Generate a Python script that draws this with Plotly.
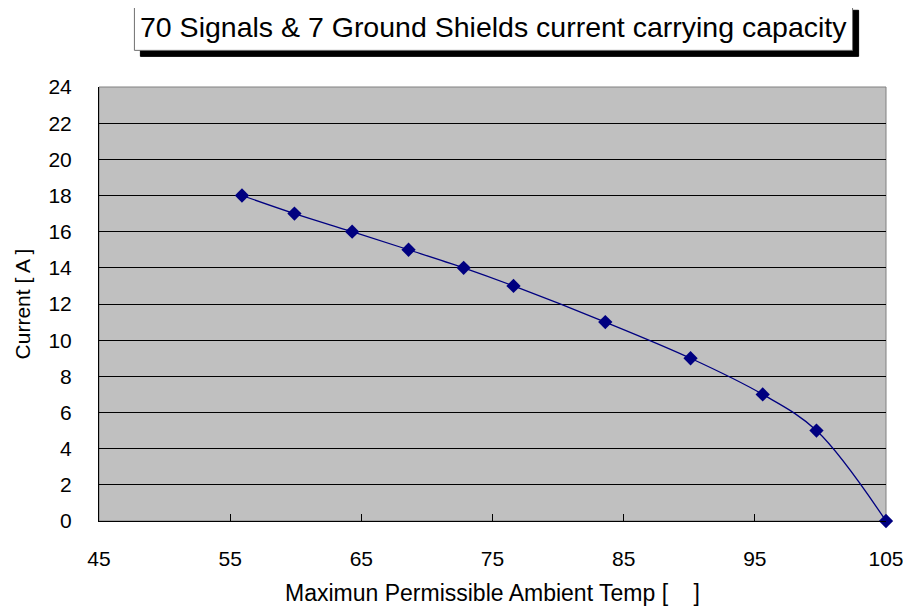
import plotly.graph_objects as go

# ambient temperature vs permissible current
temp = [55.9, 59.9, 64.3, 68.6, 72.8, 76.6, 83.6, 90.1, 95.6, 99.7, 105]
current = [18, 17, 16, 15, 14, 13, 11, 9, 7, 5, 0]

title_text = "70 Signals & 7 Ground Shields current carrying capacity"
x_title = "Maximun Permissible Ambient Temp [\u00a0\u00a0\u00a0\u00a0]"
y_title = "Current [ A ]"

FONT = "Liberation Sans, Arial, sans-serif"
NAVY = "#000080"


def main():
    fig = go.Figure()

    fig.add_trace(go.Scatter(
        x=temp, y=current,
        mode="lines+markers",
        line=dict(color=NAVY, width=1.3, shape="spline", smoothing=1.0),
        marker=dict(symbol="diamond", size=11, color=NAVY),
        cliponaxis=False,
        showlegend=False,
    ))

    # grey frame round the plot area
    fig.add_shape(type="rect", xref="paper", yref="paper",
                  x0=0, x1=1, y0=0, y1=1,
                  line=dict(color="#808080", width=1), layer="below")

    # title box: black drop shadow, then white box with grey border
    fig.add_shape(type="rect", xref="paper", yref="paper",
                  x0=0.0526, x1=0.9652, y0=1.0706, y1=1.1767,
                  line=dict(color="black", width=1), fillcolor="black")
    fig.add_shape(type="rect", xref="paper", yref="paper",
                  x0=0.045, x1=0.9575, y0=1.0844, y1=1.1906,
                  line=dict(color="#707070", width=1), fillcolor="white")
    fig.add_annotation(
        text=title_text, xref="paper", yref="paper",
        x=0.501, y=1.1375, xanchor="center", yanchor="middle",
        showarrow=False,
        font=dict(family=FONT, size=28.5, color="black"),
    )

    # the page body adds 8px on the left and top, so the figure is 8px smaller
    fig.update_layout(
        width=903, height=602,
        margin=dict(l=91, r=25, t=79, b=89),
        paper_bgcolor="white",
        plot_bgcolor="#C0C0C0",
        font=dict(family=FONT, size=21, color="black"),
    )
    fig.update_xaxes(
        range=[45, 105], tick0=45, dtick=10,
        showgrid=False, zeroline=False, automargin=False,
        showline=True, linecolor="black", linewidth=1,
        ticks="inside", ticklen=7, tickcolor="black",
        ticklabelstandoff=19,
        title=dict(text=x_title, standoff=15, font=dict(size=23)),
    )
    fig.update_yaxes(
        range=[0, 24], dtick=2,
        showgrid=True, gridcolor="black", gridwidth=1, zeroline=False,
        automargin=False,
        showline=True, linecolor="black", linewidth=1,
        ticks="inside", ticklen=7, tickcolor="black",
        ticklabelstandoff=22,
        title=dict(text=y_title, standoff=12, font=dict(size=21)),
    )

    fig.write_html("out.html")


if __name__ == "__main__":
    main()
